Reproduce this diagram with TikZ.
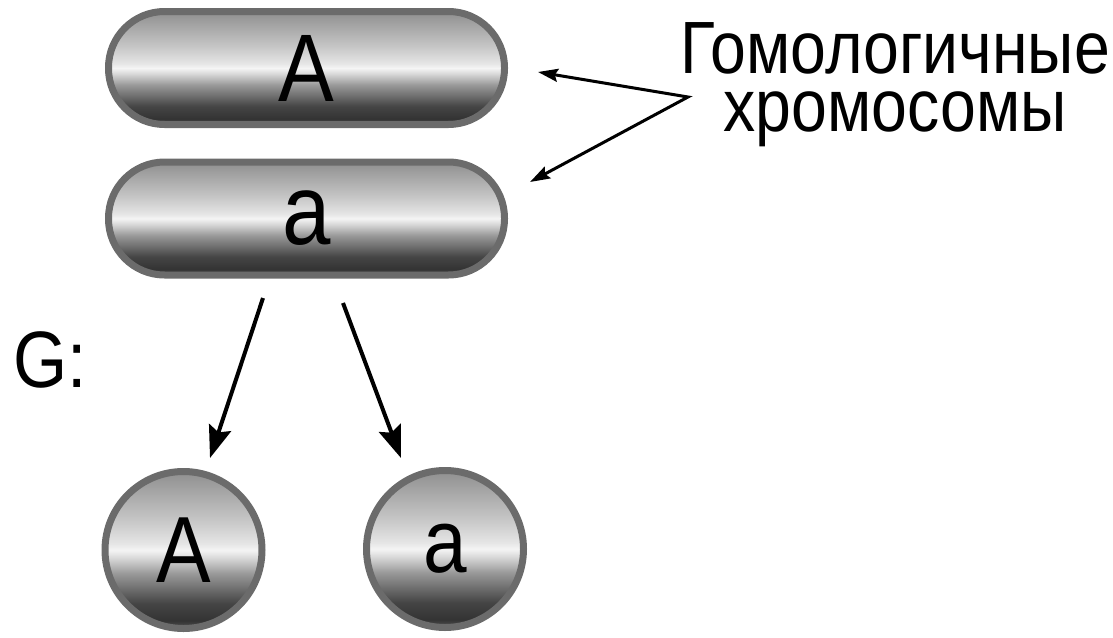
\documentclass[tikz,border=0pt]{standalone}
\usepackage{fontspec}
\setmainfont[FakeStretch=0.87]{Liberation Sans}
\usetikzlibrary{arrows.meta}
\definecolor{bordergray}{gray}{0.42}
\pgfdeclareverticalshading{chromshade}{100bp}{gray(0bp)=(0.33); gray(25bp)=(0.33); gray(27.5bp)=(0.2); gray(33bp)=(0.27); gray(42.5bp)=(0.6); gray(47.5bp)=(0.85); gray(50bp)=(0.96); gray(52bp)=(0.9); gray(60bp)=(0.77); gray(70bp)=(0.63); gray(75bp)=(0.56); gray(100bp)=(0.56)}
\tikzset{
  chrom/.style={draw=bordergray, line width=7pt, rounded corners=56pt, minimum width=396pt, minimum height=113pt, shading=chromshade, inner sep=0pt},
  gamete/.style={circle, draw=bordergray, line width=7pt, minimum size=157pt, shading=chromshade, inner sep=0pt},
  bigarrow/.style={line width=4pt, -{Stealth[length=32pt,width=23pt,inset=5pt]}},
  labarrow/.style={line width=3pt, {Stealth[length=20pt,width=13pt,inset=3pt]}-{Stealth[length=20pt,width=13pt,inset=3pt]}, line join=miter},
  labtext/.style={align=center, inner sep=0pt, font=\fontsize{74}{58}\selectfont}
}
\begin{document}
\begin{tikzpicture}[x=1pt,y=-1pt]
\useasboundingbox (0,0) rectangle (1113,637);
\node[chrom, font=\fontsize{96}{96}\selectfont] (top) at (306.5,68) {A};
\node[chrom, font=\fontsize{100}{100}\selectfont] (bot) at (306.5,218.5) {a};
\node[gamete, font=\fontsize{94}{94}\selectfont] (gA) at (183.5,550) {A};
\node[gamete, font=\fontsize{90}{90}\selectfont] (ga) at (445,549) {a};
\node[anchor=base west, inner sep=0pt, font=\fontsize{80}{80}\selectfont] (G) at (13,387) {G:};
\node[labtext] (lab) at (895,85) {Гомологичные\\хромосомы};
\coordinate (s1) at (263,298);
\coordinate (s2) at (343,303);
\coordinate (e1) at (210,458);
\coordinate (e2) at (401,458);
\draw[bigarrow] (s1) -- (e1);
\draw[bigarrow] (s2) -- (e2);
\coordinate (t1) at (538,72);
\coordinate (j) at (688,97);
\coordinate (t2) at (530,182);
\draw[labarrow] (t1) -- (j) -- (t2);
\end{tikzpicture}
\end{document}
